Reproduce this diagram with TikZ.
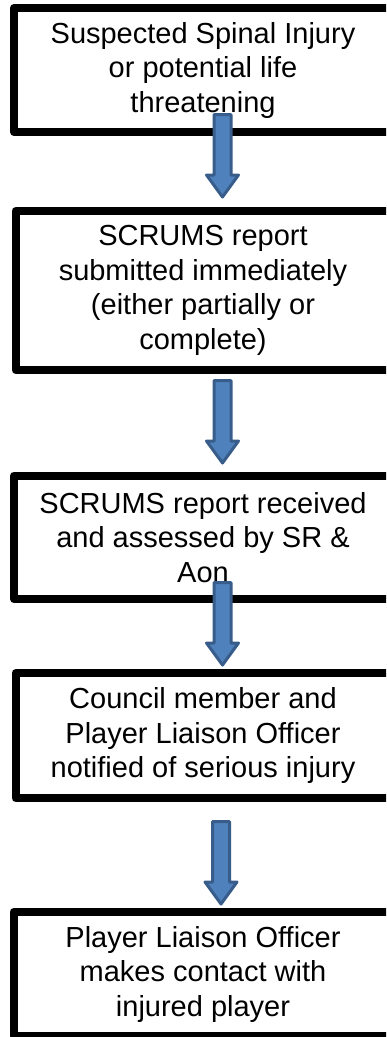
\documentclass[tikz,border=0pt]{standalone}
\usepackage{fontspec}
\setmainfont{Liberation Sans}
\usetikzlibrary{calc}
\definecolor{afill}{HTML}{4F81BD}
\definecolor{aline}{HTML}{385D8A}
\tikzset{
  stepbox/.style={draw=black, line width=8pt, line join=round, fill=white,
    inner sep=0pt, outer sep=0pt, anchor=north west, minimum width=420pt},
  steptext/.style={align=center, font=\fontsize{29}{34.5}\selectfont, inner sep=0pt},
  barrow/.style={draw=aline, fill=afill, line width=3pt, line join=round}
}
\newcommand\blockarrow[2]{%
  \draw[barrow] let \p1=(#1), \p2=(#2) in
    (\x1-8.5pt,\y1) -- (\x1+8.5pt,\y1) -- (\x1+8.5pt,\y2+22pt)
    -- (\x1+16pt,\y2+22pt) -- (\x1,\y2) -- (\x1-16pt,\y2+22pt)
    -- (\x1-8.5pt,\y2+22pt) -- cycle;}
\begin{document}
\begin{tikzpicture}[x=1pt,y=-1pt]
\useasboundingbox (0,0) rectangle (386,1037);
\clip (0,0) rectangle (386,1037);
\node[stepbox, minimum height=124pt] (b1) at (14,8) {};
\node[steptext] (t1) at (203,70)
  {Suspected Spinal Injury\\or potential life\\threatening};
\node[stepbox, minimum height=159pt] (b2) at (15.5,211) {};
\node[steptext] (t2) at (203,290.5)
  {SCRUMS report\\submitted immediately\\(either partially or\\complete)};
\node[stepbox, minimum height=123.5pt] (b3) at (14,475.5) {};
\node[steptext] (t3) at (203,537.25)
  {SCRUMS report received\\and assessed by SR \&\\Aon};
\node[stepbox, minimum height=125pt] (b4) at (15.5,673) {};
\node[steptext] (t4) at (203,735.5)
  {Council member and\\Player Liaison Officer\\notified of serious injury};
\node[stepbox, minimum height=124pt] (b5) at (13.5,912) {};
\node[steptext] (t5) at (203,974)
  {Player Liaison Officer\\makes contact with\\injured player};
\coordinate (a1s) at (222.5,114.5); \coordinate (a1e) at (222.5,197);
\coordinate (a2s) at (222.5,380.5); \coordinate (a2e) at (222.5,463);
\coordinate (a3s) at (222.5,582.5); \coordinate (a3e) at (222.5,665);
\coordinate (a4s) at (221,821.5);   \coordinate (a4e) at (221,904);
\blockarrow{a1s}{a1e}
\blockarrow{a2s}{a2e}
\blockarrow{a3s}{a3e}
\blockarrow{a4s}{a4e}
\end{tikzpicture}
\end{document}
